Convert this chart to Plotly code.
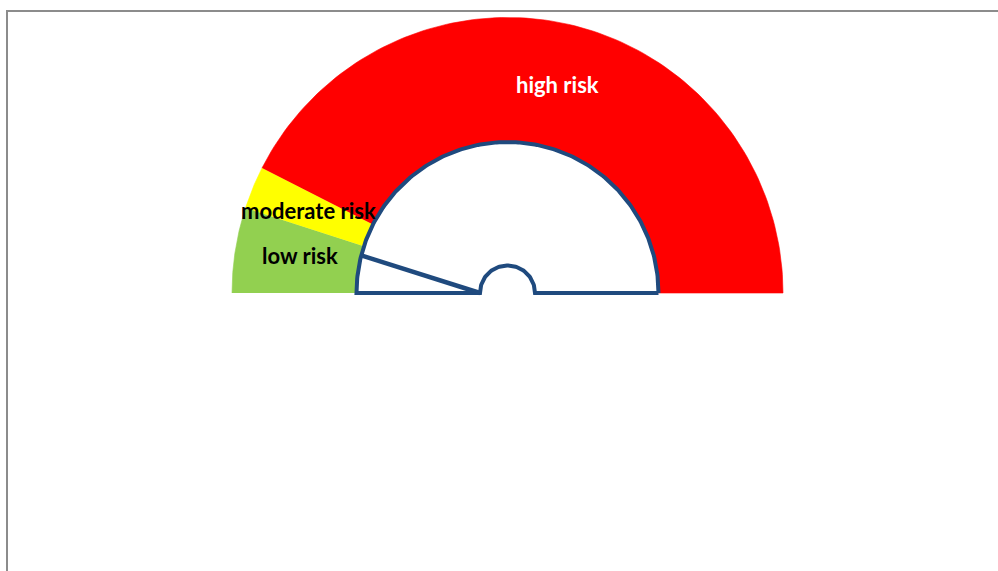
import numpy as np
import plotly.graph_objects as go

# ---- data ----
categories = ["low risk", "moderate risk", "high risk"]
values = [10, 5, 85]          # share of the half dial
colors = ["#92D050", "#FFFF00", "#FF0000"]
label_colors = ["#000000", "#000000", "#FFFFFF"]
needle_value = 8

# ---- geometry (pixels) ----
R_OUT = 275.5
R_IN = 151
R_HUB = 27.5
R_LABEL = 213
BLUE = "#1F4A7E"
LABEL_NUDGE = {"low risk": (3, 4), "moderate risk": (-2, 1), "high risk": (0, 1)}  # (x, y) px tweaks
total = sum(values)


def ang(v):
    return np.pi * (1 - v / total)


fig = go.Figure()
annotations = []
cum = 0
for cat, v, c, lc in zip(categories, values, colors, label_colors):
    t = np.linspace(ang(cum), ang(cum + v), 120)
    xs = np.concatenate([R_OUT * np.cos(t), R_IN * np.cos(t[::-1])])
    ys = np.concatenate([R_OUT * np.sin(t), R_IN * np.sin(t[::-1])])
    fig.add_trace(go.Scatter(x=xs, y=ys, fill="toself", fillcolor=c, mode="lines",
                             line=dict(color=c, width=0.6), hoverinfo="skip",
                             showlegend=False))
    mid = ang(cum + v / 2)
    dx, dy = LABEL_NUDGE[cat]
    annotations.append(dict(x=R_LABEL * np.cos(mid), y=R_LABEL * np.sin(mid), text=cat,
                            showarrow=False, xref="x", yref="y", xshift=dx, yshift=dy,
                            font=dict(family="Lato", size=22, color=lc, weight="bold")))
    cum += v

# inner white half-disc with hub bump
t = np.linspace(0, np.pi, 200)
th = np.linspace(np.pi, 0, 80)
ix = np.concatenate([R_IN * np.cos(t), [-R_HUB], R_HUB * np.cos(th), [R_IN]])
iy = np.concatenate([R_IN * np.sin(t), [0], R_HUB * np.sin(th), [0]])
fig.add_trace(go.Scatter(x=ix, y=iy, fill="toself", fillcolor="white", mode="lines",
                         line=dict(color=BLUE, width=4), hoverinfo="skip", showlegend=False))

# needle
na = ang(needle_value)
fig.add_trace(go.Scatter(x=[-R_HUB, R_IN * np.cos(na)], y=[0, R_IN * np.sin(na)], mode="lines",
                         line=dict(color=BLUE, width=4.5), hoverinfo="skip", showlegend=False))

W, H = 998, 571
CX, CY = 507.5, 293
fig.update_layout(
    width=W, height=H, margin=dict(l=0, r=0, t=0, b=0),
    paper_bgcolor="white", plot_bgcolor="white",
    xaxis=dict(range=[-CX, W - CX], visible=False, fixedrange=True),
    yaxis=dict(range=[-(H - CY), CY], visible=False, fixedrange=True),
    annotations=annotations,
    shapes=[dict(type="rect", xref="paper", yref="paper",
                 x0=7 / W, x1=1.02, y0=-0.02, y1=1 - 11 / H,
                 line=dict(color="#8C8C8C", width=2), fillcolor="rgba(0,0,0,0)", layer="above")],
)

fig.write_html("out.html", config={"displayModeBar": False},
               post_script="document.body.style.margin='0';document.body.style.overflow='hidden';")
